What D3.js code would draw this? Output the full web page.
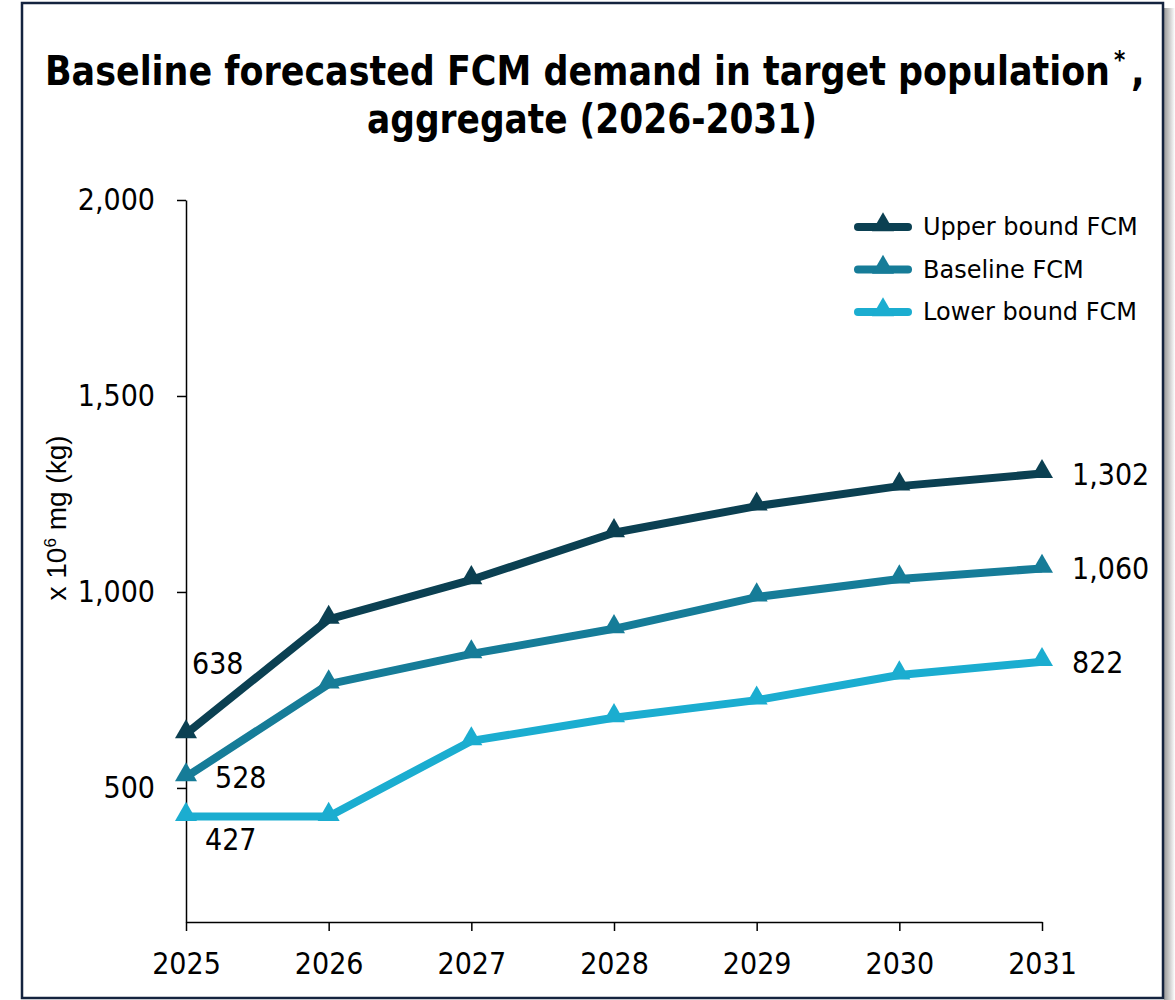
<!DOCTYPE html>
<html>
<head>
<meta charset="utf-8">
<script src="https://d3js.org/d3.v7.min.js"></script>
<style>
  body { margin: 0; background: #fff; }
  text { font-family: 'DejaVu Sans Condensed', 'DejaVu Sans', sans-serif; font-stretch: condensed; }
</style>
</head>
<body>
<svg id="chart" width="1175" height="1000"></svg>
<script>
// Data
var years = [2025, 2026, 2027, 2028, 2029, 2030, 2031];
var upperFCM = [638, 930, 1031, 1151, 1219, 1270, 1302];
var baselineFCM = [528, 765, 842, 906, 987, 1033, 1060];
var lowerFCM = [427, 427, 620, 679, 724, 788, 822];
var seriesNames = ["Upper bound FCM", "Baseline FCM", "Lower bound FCM"];
var yTicks = [500, 1000, 1500, 2000];
var yMin = 158, yMax = 2000;

var colors = ["#0b4052", "#167c98", "#1badd0"];
var series = [upperFCM, baselineFCM, lowerFCM];

// offsets of the first-point labels (upper, baseline, lower)
var startLabelOff = [[6, -60], [29, 11], [19, 33]];

var svg = d3.select("#chart");

// frame with a soft shadow on the right
var defs = svg.append("defs");
var grad = defs.append("linearGradient").attr("id", "shade");
grad.append("stop").attr("offset", "0%").attr("stop-color", "#999");
grad.append("stop").attr("offset", "100%").attr("stop-color", "#fff");
svg.append("rect")
    .attr("x", 1164).attr("y", 8).attr("width", 11).attr("height", 992)
    .attr("fill", "url(#shade)");
svg.append("rect")
    .attr("x", 22).attr("y", 3).attr("width", 1141).attr("height", 995)
    .attr("fill", "#fff")
    .attr("stroke", "#14233f")
    .attr("stroke-width", 2.5);

// Title (main run squeezed to width, then the asterisk and comma)
svg.append("text")
    .attr("x", 45).attr("y", 85)
    .attr("font-size", 40)
    .attr("font-weight", "bold")
    .attr("textLength", 1065)
    .attr("lengthAdjust", "spacingAndGlyphs")
    .text("Baseline forecasted FCM demand in target population");
svg.append("text")
    .attr("x", 1114).attr("y", 68)
    .attr("font-size", 24)
    .attr("font-weight", "bold")
    .text("*");
svg.append("text")
    .attr("x", 1131).attr("y", 85)
    .attr("font-size", 40)
    .attr("font-weight", "bold")
    .text(",");

svg.append("text")
    .attr("x", 592).attr("y", 133)
    .attr("text-anchor", "middle")
    .attr("font-size", 40)
    .attr("font-weight", "bold")
    .attr("textLength", 450)
    .attr("lengthAdjust", "spacingAndGlyphs")
    .text("aggregate (2026-2031)");

// Scales
var x = d3.scalePoint()
    .domain(years)
    .range([186, 1042]);

var y = d3.scaleLinear()
    .domain([yMin, yMax])
    .range([922, 200]);

// Axes
var yAxis = svg.append("g")
    .attr("transform", "translate(186,0)")
    .call(d3.axisLeft(y).tickValues(yTicks).tickSize(9).tickPadding(22)
        .tickFormat(d3.format(",")).tickSizeOuter(0));
yAxis.select(".domain").attr("stroke-width", 1.5);
yAxis.selectAll(".tick line").attr("stroke-width", 1.5);
yAxis.selectAll("text")
    .attr("font-size", 30)
    .attr("fill", "#000")
    .style("font-family", "'DejaVu Sans Condensed', 'DejaVu Sans', sans-serif");

var xAxis = svg.append("g")
    .attr("transform", "translate(0,922)")
    .call(d3.axisBottom(x).tickSize(9).tickPadding(22).tickSizeOuter(0));
xAxis.select(".domain").attr("stroke-width", 1.5);
xAxis.selectAll(".tick line").attr("stroke-width", 1.5);
xAxis.selectAll("text")
    .attr("font-size", 30)
    .attr("fill", "#000")
    .style("font-family", "'DejaVu Sans Condensed', 'DejaVu Sans', sans-serif");

// y axis title
var yLab = svg.append("text")
    .attr("transform", "translate(66,518) rotate(-90)")
    .attr("text-anchor", "middle")
    .attr("font-size", 28)
    .style("font-family", "'Liberation Sans', Arial, sans-serif")
    .style("font-stretch", "normal");
yLab.append("tspan").text("x 10");
yLab.append("tspan").attr("dy", -10).attr("font-size", 17).text("6");
yLab.append("tspan").attr("dy", 10).text(" mg (kg)");

// Lines and markers
var line = d3.line()
    .x(function(d, i){ return x(years[i]) })
    .y(function(d){ return y(d) });

var tri = d3.symbol().type(d3.symbolTriangle).size(210);

series.forEach(function(vals, s) {
  svg.append("path")
      .datum(vals)
      .attr("fill", "none")
      .attr("stroke", colors[s])
      .attr("stroke-width", 8)
      .attr("stroke-linejoin", "round")
      .attr("d", line);

  svg.selectAll(".m" + s)
    .data(vals)
    .enter()
    .append("path")
      .attr("class", "m" + s)
      .attr("d", tri)
      .attr("fill", colors[s])
      .attr("transform", function(d, i){ return "translate(" + x(years[i]) + "," + (y(d) - 2) + ")" });

  // first and last value labels
  svg.append("text")
      .attr("x", x(years[0]) + startLabelOff[s][0])
      .attr("y", y(vals[0]) + startLabelOff[s][1])
      .attr("font-size", 30)
      .text(d3.format(",")(vals[0]));
  svg.append("text")
      .attr("x", x(years[years.length - 1]) + 30)
      .attr("y", y(vals[vals.length - 1]) + 11)
      .attr("font-size", 30)
      .text(d3.format(",")(vals[vals.length - 1]));
});

// Legend
var legend = svg.append("g");
seriesNames.forEach(function(name, s) {
  var ly = 227 + s * 42.5;
  legend.append("line")
      .attr("x1", 858).attr("x2", 908)
      .attr("y1", ly).attr("y2", ly)
      .attr("stroke", colors[s])
      .attr("stroke-width", 8)
      .attr("stroke-linecap", "round");
  legend.append("path")
      .attr("d", tri)
      .attr("fill", colors[s])
      .attr("transform", "translate(883," + (ly - 2) + ")");
  legend.append("text")
      .attr("x", 923).attr("y", ly + 8)
      .attr("font-size", 24)
      .style("font-family", "'DejaVu Sans', sans-serif")
      .style("font-stretch", "normal")
      .text(name);
});
</script>
</body>
</html>
